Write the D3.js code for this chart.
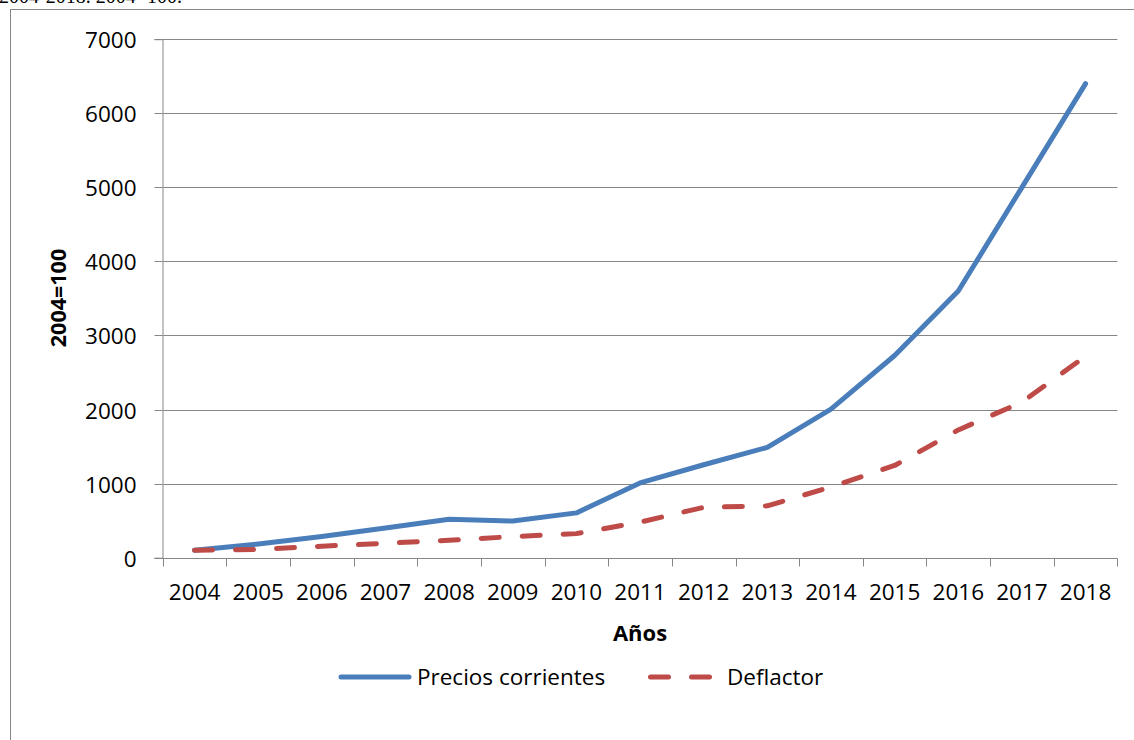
<!DOCTYPE html>
<html>
<head>
<meta charset="utf-8">
<script src="https://cdn.jsdelivr.net/npm/d3@7"></script>
<style>
  html, body { margin: 0; padding: 0; background: #fff; }
  svg { display: block; }
  text { font-family: "Open Sans", Lato, "Liberation Sans", sans-serif; fill: #000; }
</style>
</head>
<body>
<svg id="chart" width="1134" height="740"></svg>
<script>
const years = ["2004","2005","2006","2007","2008","2009","2010","2011","2012","2013","2014","2015","2016","2017","2018"];
const preciosCorrientes = [100, 185, 285, 400, 520, 495, 605, 1010, 1255, 1490, 2005, 2730, 3600, 5000, 6400];
const deflactor = [100, 112, 155, 195, 235, 285, 325, 480, 680, 700, 955, 1245, 1725, 2100, 2720];
const yTicks = [0, 1000, 2000, 3000, 4000, 5000, 6000, 7000];
const seriesNames = ["Precios corrientes", "Deflactor"];
const colors = ["#4A7EBB", "#BE4B48"];

const svg = d3.select("#chart");
const grid = "#868686";

// partially visible caption above the chart frame
svg.append("text").attr("x", -1).attr("y", 3)
  .style("font-family", "'Liberation Serif', serif").style("font-size", "20px")
  .text("2004-2018. 2004=100.");

// chart frame
svg.append("rect").attr("x", 10.5).attr("y", 9.5).attr("width", 1300).attr("height", 900)
  .attr("fill", "none").attr("stroke", grid).attr("stroke-width", 1);

const x = d3.scaleBand().domain(years).range([162.7, 1117.4]).padding(0);
const y = d3.scaleLinear().domain([0, 7000]).range([557.7, 39.2]);

// gridlines
svg.append("g").selectAll("line").data(yTicks.filter(d => d > 0)).join("line")
  .attr("x1", 162.7).attr("x2", 1117.4)
  .attr("y1", d => Math.round(y(d)) + 0.5).attr("y2", d => Math.round(y(d)) + 0.5)
  .attr("stroke", grid).attr("stroke-width", 1);

// y axis
const yAxis = svg.append("g").attr("transform", "translate(162.5,0)")
  .call(d3.axisLeft(y).tickValues(yTicks).tickSize(8).tickPadding(18).tickFormat(d3.format("d")));
yAxis.select(".domain").attr("stroke", grid);
yAxis.selectAll(".tick line").attr("stroke", grid);
yAxis.selectAll(".tick").attr("transform", d => `translate(0,${Math.round(y(d)) + 0.5})`);
yAxis.selectAll("text").style("font-size", "22.5px").style("font-family", "'Open Sans', sans-serif")
  .attr("fill", "#000").attr("dy", "0.36em");

// x axis
const xAxisG = svg.append("g").attr("transform", `translate(0,${Math.round(y(0)) + 0.5})`);
xAxisG.append("line").attr("x1", 154.7).attr("x2", 1117.4).attr("y1", 0).attr("y2", 0).attr("stroke", grid);
const bounds = years.map(d => x(d)).concat([x(years[years.length - 1]) + x.bandwidth()]);
xAxisG.selectAll("line.tk").data(bounds).join("line").attr("class", "tk")
  .attr("x1", d => Math.round(d) + 0.5).attr("x2", d => Math.round(d) + 0.5)
  .attr("y1", 0).attr("y2", 8).attr("stroke", grid);
xAxisG.selectAll("text").data(years).join("text")
  .attr("x", d => x(d) + x.bandwidth() / 2).attr("y", 41.5)
  .attr("text-anchor", "middle").style("font-size", "22.5px").text(d => d);

// axis titles
svg.append("text").attr("x", 640).attr("y", 641).attr("text-anchor", "middle")
  .style("font-size", "22px").style("font-weight", "bold").text("Años");
svg.append("text").attr("transform", "translate(66,298) rotate(-90)").attr("text-anchor", "middle")
  .style("font-size", "21.5px").style("font-weight", "bold").text("2004=100");

// lines
const line = d3.line().x((d, i) => x(years[i]) + x.bandwidth() / 2).y(d => y(d));
svg.append("path").datum(preciosCorrientes).attr("d", line)
  .attr("fill", "none").attr("stroke", colors[0]).attr("stroke-width", 5)
  .attr("stroke-linejoin", "round").attr("stroke-linecap", "round");
svg.append("path").datum(deflactor).attr("d", line)
  .attr("fill", "none").attr("stroke", colors[1]).attr("stroke-width", 5)
  .attr("stroke-dasharray", "18,23").attr("stroke-linejoin", "round").attr("stroke-linecap", "round");

// legend
const lg = svg.append("g");
lg.append("line").attr("x1", 341).attr("x2", 409).attr("y1", 677).attr("y2", 677)
  .attr("stroke", colors[0]).attr("stroke-width", 5).attr("stroke-linecap", "round");
lg.append("text").attr("x", 417).attr("y", 685).style("font-size", "22.5px").text(seriesNames[0]);
lg.append("line").attr("x1", 650.5).attr("x2", 710).attr("y1", 677).attr("y2", 677)
  .attr("stroke", colors[1]).attr("stroke-width", 5).attr("stroke-linecap", "round")
  .attr("stroke-dasharray", "18,23");
lg.append("text").attr("x", 727).attr("y", 685).style("font-size", "22.5px").text(seriesNames[1]);
</script>
</body>
</html>
